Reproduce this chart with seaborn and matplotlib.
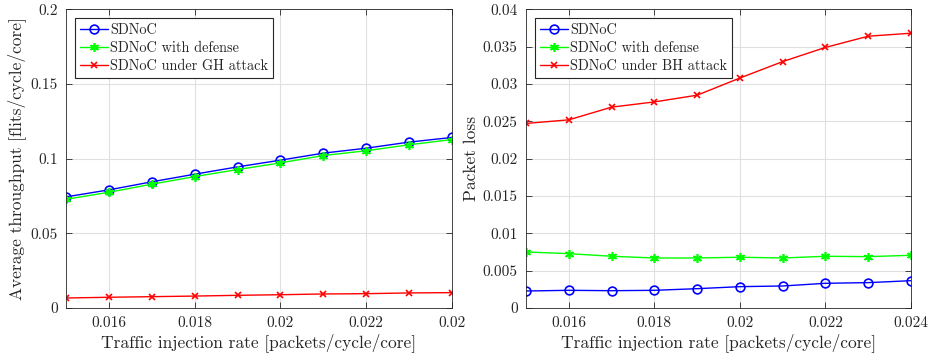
import matplotlib
matplotlib.use("Agg")
import matplotlib.pyplot as plt
import seaborn as sns
import numpy as np

# injection rates
rate = [0.015, 0.016, 0.017, 0.018, 0.019, 0.020, 0.021, 0.022, 0.023, 0.024]

# throughput [flits/cycle/core]
thr_sdnoc = [0.0744, 0.0791, 0.0845, 0.0896, 0.0945, 0.0990, 0.1037, 0.1070, 0.1111, 0.1142]
thr_defense = [0.0728, 0.0775, 0.0829, 0.0880, 0.0927, 0.0972, 0.1021, 0.1053, 0.1093, 0.1128]
thr_gh = [0.0067, 0.0072, 0.0076, 0.0080, 0.0085, 0.0089, 0.0094, 0.0096, 0.0101, 0.0103]

# packet loss
loss_sdnoc = [0.00228, 0.00237, 0.00232, 0.00237, 0.00259, 0.00286, 0.00295, 0.00331, 0.00340, 0.00366]
loss_defense = [0.00751, 0.00728, 0.00693, 0.00670, 0.00670, 0.00680, 0.00670, 0.00693, 0.00688, 0.00706]
loss_bh = [0.02472, 0.02520, 0.02690, 0.02760, 0.02850, 0.03080, 0.03300, 0.03490, 0.03640, 0.03680]

x_ticks = [0.016, 0.018, 0.020, 0.022, 0.024]
x_labels_left = ["0.016", "0.018", "0.02", "0.022", "0.02"]
x_labels_right = ["0.016", "0.018", "0.02", "0.022", "0.024"]
y_ticks_left = [0, 0.05, 0.1, 0.15, 0.2]
y_labels_left = ["0", "0.05", "0.1", "0.15", "0.2"]
y_ticks_right = [0, 0.005, 0.01, 0.015, 0.02, 0.025, 0.03, 0.035, 0.04]
y_labels_right = ["0", "0.005", "0.01", "0.015", "0.02", "0.025", "0.03", "0.035", "0.04"]

sns.set_style("ticks")
plt.rcParams['font.family'] = ['cmr10', 'DejaVu Serif']
plt.rcParams['mathtext.fontset'] = 'cm'
plt.rcParams['axes.unicode_minus'] = False

fig = plt.figure(figsize=(9.33, 3.6), dpi=100)
ax1 = fig.add_axes([0.0707, 0.1444, 0.4137, 0.8297])
ax2 = fig.add_axes([0.5638, 0.1444, 0.4126, 0.8297])

# asterisk marker like matlab '*'
ast = (6, 2, 0)

def draw(ax, series, labels, ylim, yticks, ylabels, xlabels, ylabel):
    styles = [('#0000ff', 'o', 6.3), ('#00ff00', ast, 6.5), ('#ff0000', 'x', 4.8)]
    for y, lab, (c, m, ms) in zip(series, labels, styles):
        sns.lineplot(x=rate, y=y, ax=ax, color=c, marker=m, markersize=ms,
                     markerfacecolor='none' if m == 'o' else c,
                     markeredgecolor=c, markeredgewidth=1.2,
                     linewidth=1.0, label=lab)
    ax.set_xlim(0.015, 0.024)
    ax.set_ylim(*ylim)
    ax.set_xticks(x_ticks)
    ax.set_xticklabels(xlabels)
    ax.set_yticks(yticks)
    ax.set_yticklabels(ylabels)
    ax.grid(True, color='#e0e0e0', linewidth=0.8)
    ax.set_axisbelow(True)
    ax.tick_params(direction='in', top=True, right=True, length=4, width=0.6,
                   labelsize=11, colors='#262626', pad=6)
    for s in ax.spines.values():
        s.set_visible(True)
        s.set_linewidth(0.6)
        s.set_color('#262626')
    ax.set_xlabel("Traffic injection rate [packets/cycle/core]", fontsize=12.5, color='#262626', labelpad=2)
    ax.set_ylabel(ylabel, fontsize=12.5, color='#262626', labelpad=3)
    leg = ax.legend(loc='upper left', fontsize=10.3, frameon=True, fancybox=False,
                    edgecolor='#262626', framealpha=1, borderaxespad=0.6,
                    handlelength=2.0, handletextpad=0.15, labelspacing=0.3,
                    borderpad=0.35)
    leg.get_frame().set_linewidth(0.8)

draw(ax1, [thr_sdnoc, thr_defense, thr_gh],
     ["SDNoC", "SDNoC with defense", "SDNoC under GH attack"],
     (0, 0.2), y_ticks_left, y_labels_left, x_labels_left,
     "Average throughput [flits/cycle/core]")
draw(ax2, [loss_sdnoc, loss_defense, loss_bh],
     ["SDNoC", "SDNoC with defense", "SDNoC under BH attack"],
     (0, 0.04), y_ticks_right, y_labels_right, x_labels_right,
     "Packet loss")

fig.savefig("out.png", dpi=100)
